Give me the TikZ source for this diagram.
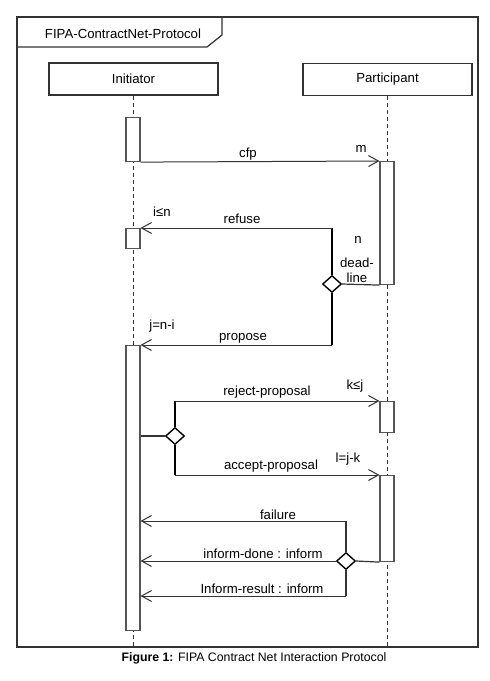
\documentclass[tikz,border=0pt]{standalone}
\usepackage{fontspec}
\setmainfont{Liberation Sans}
\usetikzlibrary{shapes.geometric,arrows.meta}
\definecolor{framegray}{HTML}{333333}
\definecolor{boxgray}{HTML}{555555}
\begin{document}
\begin{tikzpicture}[x=1pt,y=-1pt]
	\tikzstyle{every node}=[font=\fontsize{13.2}{16}\selectfont]
	\tikzstyle{lifehead}=[draw=framegray, line width=1.2pt, minimum width=169pt, minimum height=32pt, inner sep=0pt]
	\tikzstyle{actbox}=[draw=boxgray, fill=white, line width=1.1pt, minimum width=14pt, inner sep=0pt, anchor=north]
	\tikzstyle{lifeline}=[framegray, line width=0.9pt, dash pattern=on 4pt off 3pt]
	\tikzstyle{msgline}=[framegray, line width=1pt, -{Straight Barb[length=10pt,width=11pt]}]
	\tikzstyle{plainline}=[framegray, line width=1.2pt]
	\tikzstyle{branchline}=[black, line width=2.2pt]
	\tikzstyle{choice}=[diamond, draw=black, fill=white, line width=1.4pt, minimum width=19pt, minimum height=17pt, inner sep=0pt]
	\tikzstyle{lbl}=[anchor=base, inner sep=0pt]

	\useasboundingbox (0,0) rectangle (490,681);
	\draw [framegray, line width=1.4pt] (17,17) rectangle (478,647);
	\draw [framegray, line width=1.2pt] (17,47) -- (207,47) -- (222,35) -- (222,17);
	\node [lbl] (title) at (123,38) {FIPA-ContractNet-Protocol};

	\node [lifehead] (ini) at (133.5,79) {Initiator};
	\node [lifehead] (par) at (387.5,79.5) {Participant};
	\coordinate (bot) at (0,647);
	\draw [lifeline] (ini.south) -- (ini.south |- bot);
	\draw [lifeline] (par.south) -- (par.south |- bot);

	\node [actbox, minimum height=44pt] (a1) at (133,117) {};
	\node [actbox, minimum height=20pt] (a2) at (133,228) {};
	\node [actbox, minimum height=285pt] (a3) at (133,345) {};
	\node [actbox, minimum height=123pt] (p1) at (387,161) {};
	\node [actbox, minimum height=31pt] (p2) at (387,401) {};
	\node [actbox, minimum height=86pt] (p3) at (387,475) {};

	\node [choice] (d1) at (332,284) {};
	\node [choice] (d2) at (175,436) {};
	\node [choice] (d3) at (346,561) {};

	\draw [msgline] (a1.south east) -- (p1.north west);

	\draw [branchline] (d1.north) -- (d1 |- a2.north);
	\draw [msgline] (d1 |- a2.north) -- (a2.north east);
	\draw [plainline] (d1.east) -- (p1.south west);
	\draw [branchline] (d1.south) -- (d1 |- a3.north);
	\draw [msgline] (d1 |- a3.north) -- (a3.north east);

	\draw [plainline] (a3.east |- d2) -- (d2.west);
	\draw [branchline] (d2.north) -- (d2 |- p2.north);
	\draw [msgline] (d2 |- p2.north) -- (p2.north west);
	\draw [branchline] (d2.south) -- (d2 |- p3.north);
	\draw [msgline] (d2 |- p3.north) -- (p3.north west);

	\coordinate (fail) at (346,521);
	\coordinate (res) at (346,596);
	\draw [plainline] (d3.east) -- (p3.south west);
	\draw [plainline] (d3.north) -- (fail);
	\draw [plainline] (d3.south) -- (res);
	\draw [msgline] (fail) -- (fail -| a3.east);
	\draw [msgline] (d3.west) -- (d3 -| a3.east);
	\draw [msgline] (res) -- (res -| a3.east);

	\node [lbl] (cfp) at (248,157) {cfp};
	\node [lbl] (m) at (361,152) {m};
	\node [lbl] (ilen) at (162,216) {i≤n};
	\node [lbl] (refuse) at (242,223) {refuse};
	\node [lbl] (n) at (358,243) {n};
	\node [lbl] (dead) at (357,267) {dead-};
	\node [lbl] (line) at (357,282) {line};
	\node [lbl] (jni) at (162,329) {j=n-i};
	\node [lbl] (propose) at (243,340) {propose};
	\node [lbl] (klej) at (355,389) {k≤j};
	\node [lbl] (reject) at (267,395) {reject-proposal};
	\node [lbl] (ljk) at (348,462) {l=j-k};
	\node [lbl] (accept) at (271,469) {accept-proposal};
	\node [lbl] (failure) at (278,519) {failure};
	\node [lbl] (done) at (263,558) {inform-done : inform};
	\node [lbl] (result) at (262,593) {Inform-result : inform};
	\node [lbl, font=\fontsize{12.3}{14}\selectfont] (caption) at (254,661) {\textbf{Figure 1:} FIPA Contract Net Interaction Protocol};
\end{tikzpicture}
\end{document}
